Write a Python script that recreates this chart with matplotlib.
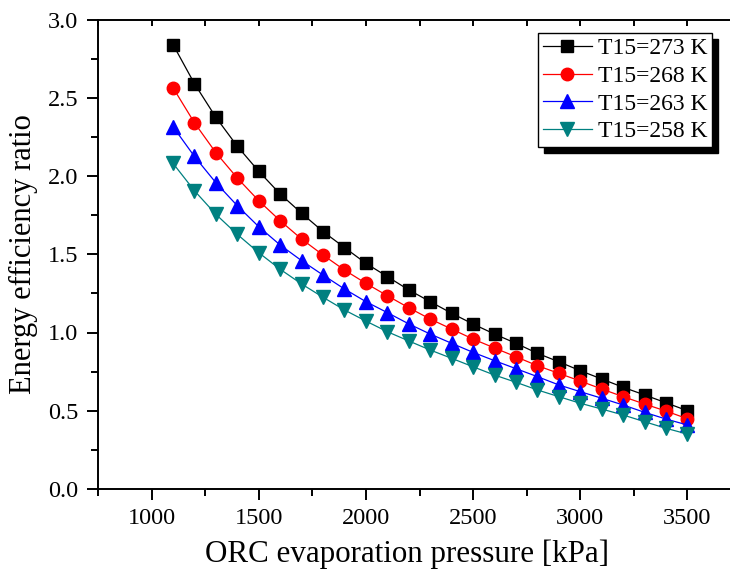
import numpy as np
import matplotlib
matplotlib.use('Agg')
from matplotlib import pyplot as plt
from matplotlib.patches import Shadow
from matplotlib.ticker import MultipleLocator, FormatStrFormatter

plt.rcParams['font.family'] = ['Liberation Serif', 'DejaVu Serif']

# ORC evaporation pressure [kPa]
pressure = np.arange(1100, 3501, 100)

# Energy efficiency ratio for each T15
eer_273 = [2.84, 2.59, 2.375, 2.19, 2.03, 1.885, 1.762, 1.645, 1.543, 1.442, 1.357, 1.272, 1.197,
           1.123, 1.054, 0.99, 0.931, 0.867, 0.813, 0.756, 0.703, 0.65, 0.601, 0.551, 0.50]
eer_268 = [2.564, 2.34, 2.149, 1.987, 1.842, 1.714, 1.597, 1.495, 1.399, 1.314, 1.235, 1.158, 1.086,
           1.022, 0.958, 0.901, 0.845, 0.788, 0.739, 0.69, 0.639, 0.59, 0.543, 0.498, 0.449]
eer_263 = [2.315, 2.125, 1.957, 1.81, 1.676, 1.559, 1.459, 1.367, 1.278, 1.197, 1.127, 1.055, 0.99,
           0.931, 0.873, 0.82, 0.769, 0.718, 0.665, 0.622, 0.58, 0.537, 0.49, 0.447, 0.409]
eer_258 = [2.081, 1.906, 1.755, 1.627, 1.51, 1.404, 1.31, 1.225, 1.144, 1.073, 1.005, 0.946, 0.888,
           0.835, 0.781, 0.728, 0.682, 0.633, 0.59, 0.548, 0.511, 0.473, 0.43, 0.388, 0.351]

labels = ['T15=273 K', 'T15=268 K', 'T15=263 K', 'T15=258 K']
series = [eer_273, eer_268, eer_263, eer_258]
colors = ['black', 'red', 'blue', '#008080']
markers = ['s', 'o', '^', 'v']
msizes = [8, 9, 9.5, 9.5]

fig = plt.figure(figsize=(7.3, 5.73), dpi=100)
# axes runs past the right edge of the picture, as in the original
ax = fig.add_axes([98 / 730, 84 / 573, 643 / 730, 469.5 / 573])

for y, lab, c, m, ms in zip(series, labels, colors, markers, msizes):
    ax.plot(pressure, y, color=c, lw=0.9, marker=m, markersize=ms,
            markerfacecolor=c, markeredgecolor=c, label=lab)

ax.set_xlim(750, 3750)
ax.set_ylim(0, 3.0)
ax.set_xticks([1000, 1500, 2000, 2500, 3000, 3500])
ax.xaxis.set_minor_locator(MultipleLocator(250))
ax.yaxis.set_major_locator(MultipleLocator(0.5))
ax.yaxis.set_minor_locator(MultipleLocator(0.25))
ax.yaxis.set_major_formatter(FormatStrFormatter('%.1f'))

for s in ax.spines.values():
    s.set_linewidth(1.4)

ax.tick_params(which='both', direction='out', width=1.4, labelsize=17.5)
ax.tick_params(which='major', length=8, pad=6)
ax.tick_params(which='minor', length=5)
ax.tick_params(axis='x', which='both', top=True, labeltop=False)
# top ticks point inwards and are short
for t in ax.xaxis.get_major_ticks() + ax.xaxis.get_minor_ticks():
    t.tick2line.set_marker(3)
    t.tick2line.set_markersize(4)

ax.set_xlabel('ORC evaporation pressure [kPa]', fontsize=22.3, labelpad=7, x=0.48)
ax.set_ylabel('Energy efficiency ratio', fontsize=22, labelpad=7)

leg = ax.legend(loc='upper left', bbox_to_anchor=(0.684, 0.971), borderaxespad=0,
                fontsize=17, frameon=True, fancybox=False, edgecolor='black',
                framealpha=1, handlelength=2.1, handletextpad=0.25, labelspacing=0.26,
                borderpad=0.2)
leg.get_frame().set_linewidth(1.0)

# solid black drop shadow, offset a bit more than matplotlib's default
fig.canvas.draw()
sh = Shadow(leg.legendPatch, 4.5, -4.5, facecolor='black', edgecolor='black', alpha=1)
sh.set_zorder(leg.get_zorder() - 0.1)
ax.add_artist(sh)

fig.savefig('out.png', dpi=100)
